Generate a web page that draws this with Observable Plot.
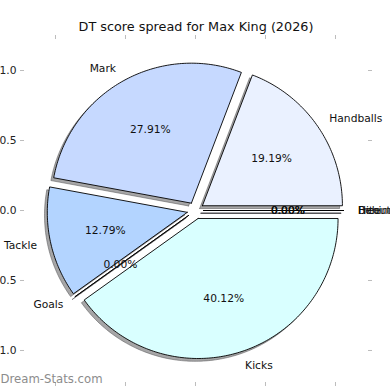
<!DOCTYPE html>
<html><head><meta charset="utf-8">
<script src="https://cdn.jsdelivr.net/npm/d3@7"></script>
<script src="https://cdn.jsdelivr.net/npm/@observablehq/plot@0.6"></script>
<style>body{margin:0;background:#fff}</style>
</head><body><div id="chart"></div>
<script>
const title = "DT score spread for Max King (2026)";
const watermark = "Dream-Stats.com";
const labels = ["Handballs", "Mark", "Tackle", "Goals", "Kicks", "Behind", "Hitout", "Free"];
const values = [19.19, 27.91, 12.79, 0, 40.12, 0, 0, 0];
const colors = ["#eaf1ff", "#c6d9ff", "#b3d4ff", "#a6cdff", "#d9ffff", "#e0ecff", "#d0e4ff", "#c0dcff"];
const axisTicks = [-1, -0.5, 0, 0.5, 1];

const EXPLODE = 0.06, R = 1, LABEL_D = 1.1, PCT_D = 0.6, SHADOW = -0.02;
const total = d3.sum(values);
let acc = 0;
const slices = labels.map((label, i) => {
  const a0 = acc / total * 2 * Math.PI; acc += values[i];
  const a1 = acc / total * 2 * Math.PI;
  const mid = (a0 + a1) / 2;
  const cx = EXPLODE * Math.cos(mid), cy = EXPLODE * Math.sin(mid);
  const lx = cx + LABEL_D * Math.cos(mid), ly = cy + LABEL_D * Math.sin(mid);
  const px = cx + PCT_D * Math.cos(mid), py = cy + PCT_D * Math.sin(mid);
  return {key: i, label, value: values[i], color: colors[i], a0, a1, mid, cx, cy, lx, ly, px, py,
          pct: (values[i] / total * 100).toFixed(2) + "%"};
});
const wedgePts = [], shadowPts = [];
for (const s of slices) {
  const n = Math.max(1, Math.ceil((s.a1 - s.a0) / (Math.PI / 180)));
  const pts = [[s.cx, s.cy]];
  for (let k = 0; k <= n; k++) {
    const a = s.a0 + (s.a1 - s.a0) * k / n;
    pts.push([s.cx + R * Math.cos(a), s.cy + R * Math.sin(a)]);
  }
  pts.push([s.cx, s.cy]);
  for (const [x, y] of pts) {
    wedgePts.push({key: s.key, x, y, color: s.color});
    shadowPts.push({key: s.key, x: x + SHADOW, y: y + SHADOW});
  }
}
const leftLabels = slices.filter(s => s.lx > 0);
const rightLabels = slices.filter(s => s.lx <= 0);

const chart = Plot.plot({
  width: 390, height: 390,
  marginLeft: 24, marginRight: 23, marginTop: 38, marginBottom: 8,
  x: {domain: [-1.2214, 1.2286]},
  y: {domain: [-1.2286, 1.2286]},
  color: {type: "identity"},
  style: {fontFamily: "DejaVu Sans", fontSize: "10.7px", background: "white", color: "#000"},
  marks: [
    Plot.axisY({anchor: "left", ticks: axisTicks, tickFormat: ".1f", label: null, tickSize: 4, tickPadding: 4, stroke: "#bdbdbd", fill: "#222", fontSize: 10.7}),
    Plot.axisY({anchor: "right", ticks: axisTicks, tickFormat: () => "", label: null, tickSize: 4, stroke: "#bdbdbd"}),
    Plot.axisX({anchor: "bottom", ticks: axisTicks, tickFormat: ".1f", label: null, tickSize: 4, tickPadding: 4, stroke: "#bdbdbd", fill: "#222", fontSize: 10.7}),
    Plot.axisX({anchor: "top", ticks: axisTicks, tickFormat: () => "", label: null, tickSize: 4, stroke: "#bdbdbd"}),
    Plot.line(shadowPts, {x: "x", y: "y", z: "key", fill: "#4d4d50", fillOpacity: 0.5, stroke: "#4d4d50", strokeOpacity: 0.5, strokeWidth: 1, strokeLinejoin: "miter", curve: "linear"}),
    Plot.line(wedgePts, {x: "x", y: "y", z: "key", fill: "color", stroke: "#000", strokeWidth: 0.9, strokeLinejoin: "miter", curve: "linear"}),
    Plot.text(leftLabels, {x: "lx", y: "ly", text: "label", textAnchor: "start", lineAnchor: "middle", fill: "#111"}),
    Plot.text(rightLabels, {x: "lx", y: "ly", text: "label", textAnchor: "end", lineAnchor: "middle", fill: "#111"}),
    Plot.text(slices, {x: "px", y: "py", text: "pct", textAnchor: "middle", lineAnchor: "middle", fill: "#111"}),
    Plot.text([title], {frameAnchor: "top", dy: -12, lineAnchor: "middle", fontSize: 12.8, fill: "#111"}),
    Plot.text([watermark], {frameAnchor: "bottom-left", dx: -24, dy: -3, textAnchor: "start", lineAnchor: "middle", fontSize: 11.7, fill: "#8c8c8c"})
  ]
});
document.getElementById("chart").appendChild(chart);
</script>
</body></html>
